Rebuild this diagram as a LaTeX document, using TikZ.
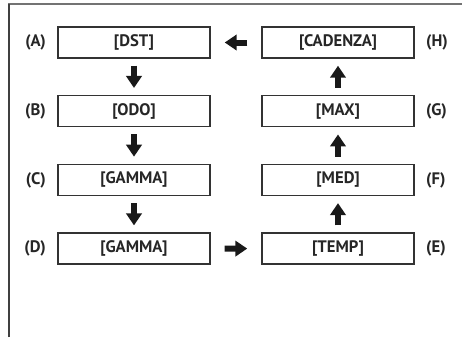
\documentclass[tikz,border=0pt]{standalone}
\usepackage{fontspec}
\setmainfont{PT Sans}
\usetikzlibrary{arrows.meta}

\tikzset{
  stagebox/.style={draw=black!80,line width=1.1pt,minimum width=114pt,minimum height=23.25pt,
    inner sep=0pt,font=\bfseries\fontsize{12.5}{14}\selectfont,text=black!85},
  stagelbl/.style={font=\bfseries\fontsize{12.5}{14}\selectfont,text=black!85,label distance=5pt},
  flow/.style={line width=4.5pt,black!90,-{Triangle[width=11.5pt,length=9pt]}}
}

\begin{document}
\begin{tikzpicture}[x=0.75pt,y=-0.75pt]
  \useasboundingbox (0,0) rectangle (462,337);
  % frame
  \draw[black!55,line width=0.8pt] (9,337) -- (9,4) -- (462,4);
  \draw[black!75,line width=1pt] (9,337) -- (9,4);
  % left column, top to bottom
  \foreach \name/\txt/\lbl [count=\i from 0] in {dst/DST/A,odo/ODO/B,gammac/GAMMA/C,gammad/GAMMA/D}
    \node[stagebox,label={[stagelbl]left:(\lbl)}] (\name) at (134,42.5+68.7*\i) {[\txt]};
  % right column, bottom to top
  \foreach \name/\txt/\lbl [count=\i from 0] in {temp/TEMP/E,med/MED/F,max/MAX/G,cadenza/CADENZA/H}
    \node[stagebox,label={[stagelbl]right:(\lbl)}] (\name) at (338,248.6-68.7*\i) {[\txt]};
  % connectors
  \foreach \a/\b in {dst/odo,odo/gammac,gammac/gammad,temp/med,med/max,max/cadenza}
    \draw[flow,shorten <=5.25pt,shorten >=5.25pt] (\a) -- (\b);
  \draw[flow,shorten <=10.5pt,shorten >=10.5pt] (gammad) -- (temp);
  \draw[flow,shorten <=10.5pt,shorten >=10.5pt] (cadenza) -- (dst);
\end{tikzpicture}
\end{document}
